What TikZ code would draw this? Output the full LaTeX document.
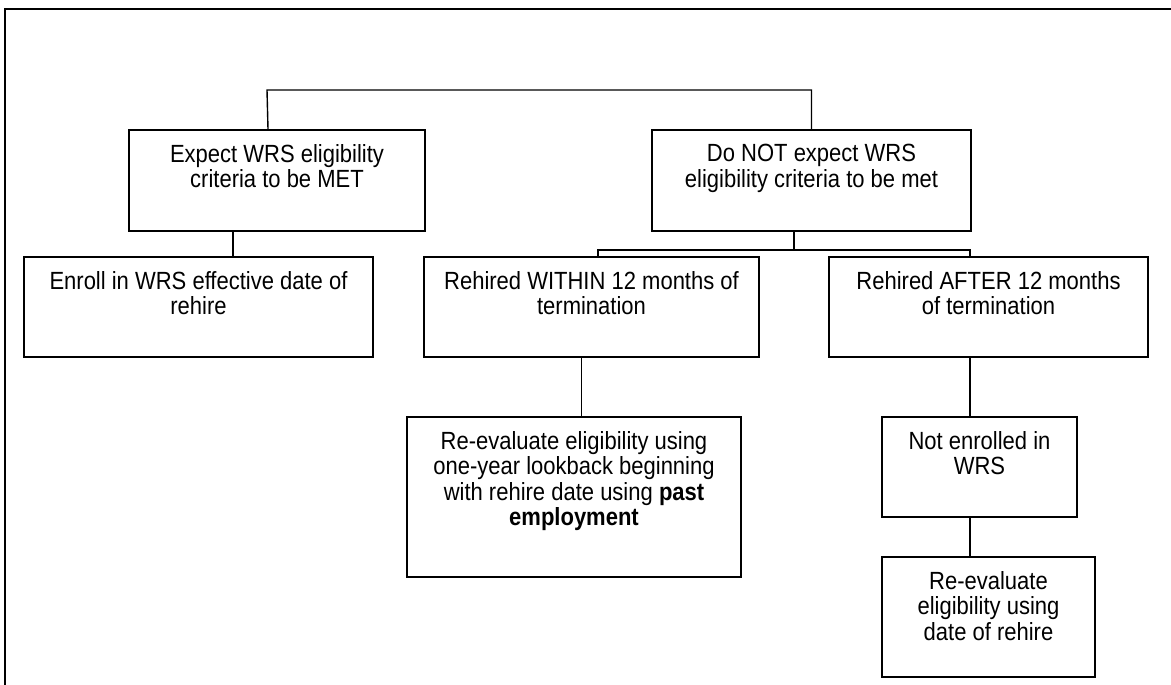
\documentclass[tikz,border=0pt]{standalone}
\usepackage{fontspec}
\setmainfont{Liberation Sans}
\begin{document}
\begin{tikzpicture}[x=1pt,y=-1pt,
  box/.style={draw=black,line width=2pt,inner sep=0pt,anchor=north west},
  txt/.style={align=center,inner sep=0pt,anchor=north,yscale=1.13,transform shape,
    font=\fontsize{22}{22.6}\selectfont},
  conn/.style={draw=black,line width=1.4pt}]
\useasboundingbox (0,0) rectangle (1171,685);
% outer frame (partly visible)
\draw[line width=1.5pt] (5,690) -- (5,9) -- (1180,9);
% boxes
\node[box,minimum width=296pt,minimum height=101pt] (b1) at (128,129) {};
\node[box,minimum width=319pt,minimum height=101pt] (b2) at (651,129) {};
\node[box,minimum width=349pt,minimum height=100pt] (b3) at (23,256) {};
\node[box,minimum width=335pt,minimum height=100pt] (b4) at (423,256) {};
\node[box,minimum width=319pt,minimum height=100pt] (b6) at (828,256) {};
\node[box,minimum width=334pt,minimum height=160pt] (b5) at (406,416) {};
\node[box,minimum width=195pt,minimum height=100pt] (b7) at (881,416) {};
\node[box,minimum width=213pt,minimum height=120pt] (b8) at (881,556) {};
% texts
\node[txt] (t1) at ([yshift=-15pt]b1.north) {Expect WRS eligibility\\criteria to be MET};
\node[txt] (t2) at ([yshift=-15pt]b2.north) {Do NOT expect WRS\\eligibility criteria to be met};
\node[txt] (t3) at ([yshift=-15pt]b3.north) {Enroll in WRS effective date of\\rehire};
\node[txt] (t4) at ([yshift=-15pt]b4.north) {Rehired WITHIN 12 months of\\termination};
\node[txt] (t6) at ([yshift=-15pt]b6.north) {Rehired AFTER 12 months\\of termination};
\node[txt] (t5) at ([yshift=-15pt]b5.north) {Re-evaluate eligibility using\\one-year lookback beginning\\with rehire date using \textbf{past}\\\textbf{employment}};
\node[txt] (t7) at ([yshift=-15pt]b7.north) {Not enrolled in\\WRS};
\node[txt] (t8) at ([yshift=-15pt]b8.north) {Re-evaluate\\eligibility using\\date of rehire};
% connectors
\coordinate (topl) at ([xshift=-9pt]b1.north);
\coordinate (topbar) at (267,90);
\draw[conn] (topl) -- (topbar) -| (b2.north);
\coordinate (b1s) at ([xshift=-44pt]b1.south);
\draw[conn] (b1s) -- (b1s |- b3.north);
\coordinate (hl) at (598,250);
\coordinate (hr) at (970,250);
\coordinate (b2s) at ([xshift=-17.5pt]b2.south);
\draw[conn] (b2s) -- (b2s |- hl);
\draw[conn] (hl |- b4.north) -- (hl) -- (hr) -- (hr |- b6.north);
\coordinate (b4s) at ([xshift=-10pt]b4.south);
\draw[conn] (b4s) -- (b4s |- b5.north);
\draw[conn] (hr |- b6.south) -- (hr |- b7.north);
\draw[conn] (hr |- b7.south) -- (hr |- b8.north);
\end{tikzpicture}
\end{document}
